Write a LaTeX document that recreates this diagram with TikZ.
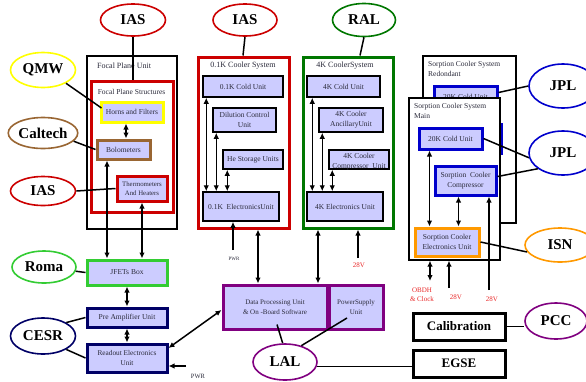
\documentclass[tikz,border=0pt]{standalone}
\usepackage{fontspec}
\setmainfont{Liberation Serif}
\usetikzlibrary{arrows.meta,calc,shapes.geometric}
\definecolor{lav}{HTML}{CCCCFF}
\definecolor{vred}{HTML}{CC0000}
\definecolor{tred}{HTML}{E82828}
\definecolor{dgreen}{HTML}{007700}
\definecolor{bgreen}{HTML}{33CC33}
\definecolor{navy}{HTML}{000066}
\definecolor{purp}{HTML}{800080}
\definecolor{orng}{HTML}{FF9900}
\definecolor{yel}{HTML}{FFFF00}
\definecolor{brwn}{HTML}{996633}
\definecolor{blu}{HTML}{0000CC}
\definecolor{txt}{HTML}{2A2A3A}
\begin{document}
\begin{tikzpicture}[x=1pt,y=-1pt,
 lbl/.style={ellipse, draw, line width=1.6pt, fill=white, inner sep=0pt, font=\fontsize{15}{15}\selectfont\bfseries},
 ubox/.style={draw, line width=1.5pt, fill=lav, inner sep=1pt, align=center, text=txt, font=\fontsize{7.5}{10}\selectfont},
 cbox/.style={ubox, line width=3pt},
 group/.style={draw, line width=1.2pt, fill=white},
 cgroup/.style={draw, line width=3pt, fill=white},
 ttl/.style={text=txt, font=\fontsize{8}{10}\selectfont, inner sep=0pt},
 conn/.style={line width=1.5pt},
 dbl/.style={conn, {Latex[length=6pt,width=5.5pt]}-{Latex[length=6pt,width=5.5pt]}},
 sgl/.style={conn, -{Latex[length=6pt,width=5.5pt]}},
 volt/.style={text=tred, font=\fontsize{7}{9}\selectfont, inner sep=0pt, align=center},
 pwrt/.style={text=txt, inner sep=0pt},
 bigbox/.style={draw, line width=3pt, fill=white, font=\fontsize{13}{13}\selectfont\bfseries, minimum width=92pt, minimum height=27pt}
]
\useasboundingbox (0,0) rectangle (586,381);

% ---------------- Focal plane unit ----------------
\node[group, minimum width=90pt, minimum height=173pt] (fpu) at (132,142.5) {};
\node[ttl, anchor=west] (fpulbl) at (97,66) {Focal Plane Unit};
\node[cgroup, draw=vred, minimum width=82pt, minimum height=131pt] (fps) at (132,146.5) {};
\node[ttl, font=\fontsize{7.5}{9}\selectfont] (fpslbl) at (131.5,92) {Focal Plane Structures};
\node[cbox, draw=yel, minimum width=62pt, minimum height=20pt] (horns) at (132,112) {Horns and Filters};
\node[cbox, draw=brwn, minimum width=53pt, minimum height=19pt] (bolo) at (123.5,149.5) {Bolometers};
\node[cbox, draw=vred, minimum width=50pt, minimum height=25pt, font=\fontsize{6.8}{9}\selectfont] (thermo) at (142,188.5) {Thermometers\\And Heaters};

% ---------------- Left chain ----------------
\node[cbox, draw=bgreen, minimum width=80pt, minimum height=25pt] (jfet) at (127,272.5) {JFETs Box};
\node[cbox, draw=navy, minimum width=80pt, minimum height=19pt] (preamp) at (127,317.5) {Pre Amplifier Unit};
\node[cbox, draw=navy, minimum width=80pt, minimum height=28pt, font=\fontsize{7.3}{10}\selectfont] (readout) at (127,358) {Readout Electronics\\Unit};

% ---------------- 0.1K cooler ----------------
\node[cgroup, draw=vred, minimum width=91pt, minimum height=171pt] (sys01) at (243.5,142.5) {};
\node[ttl] (sys01lbl) at (243,66) {0.1K Cooler System};
\node[ubox, minimum width=80pt, minimum height=21pt] (cold01) at (243,86.5) {0.1K Cold Unit};
\node[ubox, minimum width=63pt, minimum height=24pt] (dil) at (244.5,120) {Dilution Control\\Unit};
\node[ubox, minimum width=60pt, minimum height=19pt, inner sep=0pt] (he) at (253,159.5) {He Storage Units};
\node[ubox, minimum width=76pt, minimum height=29pt, inner sep=0pt] (elec01) at (241,206.5) {0.1K\ \ ElectronicsUnit};

% ---------------- 4K cooler ----------------
\node[cgroup, draw=dgreen, minimum width=90pt, minimum height=171pt] (sys4k) at (348,142.5) {};
\node[ttl] (sys4klbl) at (345,66) {4K CoolerSystem};
\node[ubox, minimum width=73pt, minimum height=21pt] (cold4k) at (343.5,86.5) {4K Cold Unit};
\node[ubox, minimum width=64pt, minimum height=24pt] (anc) at (351,120) {4K Cooler\\AncillaryUnit};
\node[ubox, minimum width=60pt, minimum height=19pt] (comp4k) at (359,159.5) {};
\node[text=txt, align=center, inner sep=0pt, font=\fontsize{7.5}{10}\selectfont] (comp4klbl) at (359,161.5) {4K Cooler\\Compressor\ \ Unit};
\node[ubox, minimum width=76pt, minimum height=29pt] (elec4k) at (345,206.5) {4K Electronics Unit};

% ---------------- DPU ----------------
\node[cbox, draw=purp, minimum width=104pt, minimum height=44pt, font=\fontsize{7}{10}\selectfont] (dpu) at (275,307) {Data Processing Unit\\\&\ On -Board Software};
\node[cbox, draw=purp, minimum width=54pt, minimum height=44pt, inner sep=0pt, font=\fontsize{7}{10}\selectfont] (psu) at (356,307) {PowerSupply\\Unit};

% ---------------- Calibration / EGSE ----------------
\node[bigbox] (calib) at (459,326.5) {Calibration};
\node[bigbox] (egse) at (459,363.5) {EGSE};

% ---------------- Sorption cooler ----------------
\node[group, minimum width=93pt, minimum height=167pt] (sorpred) at (469.5,139.5) {};
\node[ttl, anchor=north west, align=left, font=\fontsize{7.5}{10}\selectfont] (sorpredlbl) at (428,61) {Sorption Cooler System\\Redondant};
\node[cbox, draw=blu, minimum width=63pt, minimum height=21pt] (red20k) at (465.5,96.5) {20K Cold Unit};
\node[cbox, draw=blu, minimum width=51pt, minimum height=29pt] (redcomp) at (476,138.5) {};
\node[group, minimum width=91pt, minimum height=162pt] (sorpmain) at (454.5,179) {};
\node[ttl, anchor=north west, align=left, font=\fontsize{7.5}{10}\selectfont] (sorpmainlbl) at (414,103) {Sorption Cooler System\\Main};
\node[cbox, draw=blu, minimum width=63pt, minimum height=21pt] (main20k) at (450.5,138.5) {20K Cold Unit};
\node[cbox, draw=blu, minimum width=61pt, minimum height=29pt, inner sep=0pt] (maincomp) at (465.5,180.5) {Sorption\ \ Cooler\\Compressor};
\node[cbox, draw=orng, minimum width=64pt, minimum height=28pt, inner sep=0pt] (sorpelec) at (447,242) {Sorption Cooler\\Electronics Unit};

% ---------------- Ellipses ----------------
\node[lbl, draw=vred, minimum width=65pt, minimum height=32pt] (ias1) at (133,20) {IAS};
\node[lbl, draw=yel, minimum width=65pt, minimum height=35pt] (qmw) at (43,70) {QMW};
\node[lbl, draw=brwn, minimum width=65pt, minimum height=31pt] (caltech) at (43,133) {Caltech};
\node[lbl, draw=vred, minimum width=65pt, minimum height=29pt] (ias2) at (43,191) {IAS};
\node[lbl, draw=bgreen, minimum width=64pt, minimum height=32pt] (roma) at (44,267) {Roma};
\node[lbl, draw=navy, minimum width=65pt, minimum height=36pt] (cesr) at (43,336) {CESR};
\node[lbl, draw=vred, minimum width=64pt, minimum height=32pt] (ias3) at (245,20) {IAS};
\node[lbl, draw=dgreen, minimum width=63pt, minimum height=33pt] (ral) at (364,20) {RAL};
\node[lbl, draw=purp, minimum width=64pt, minimum height=36pt] (lal) at (285,362) {LAL};
\node[lbl, draw=purp, minimum width=62pt, minimum height=36pt] (pcc) at (556,321) {PCC};
\node[lbl, draw=blu, minimum width=68pt, minimum height=44pt] (jpl1) at (563,86) {JPL};
\node[lbl, draw=blu, minimum width=68pt, minimum height=44pt] (jpl2) at (563,153) {JPL};
\node[lbl, draw=orng, minimum width=70pt, minimum height=34pt] (isn) at (560,245) {ISN};

% ---------------- Connector end points ----------------
\coordinate (bj) at ($(bolo.south)+(-16.5,0)$);
\coordinate (s01d) at ($(sys01.south)+(14.5,0)$);
\coordinate (s4kd) at ($(sys4k.south)+(-30,0)$);

% ---------------- Connectors: focal plane ----------------
\draw[conn] (ias1.south) -- (ias1.south |- fps.north);
\draw[conn] (qmw.330) -- ($(horns.west)+(2,-4)$);
\draw[conn] (caltech.-15) -- (bolo.west);
\draw[conn] (ias2.east) -- (thermo.west);
\draw[dbl] ($(horns.south)+(-6,0)$) -- ($(bolo.north)+(2.5,0)$);
\draw[dbl] (bj) -- (bj |- jfet.north);
\draw[dbl] (thermo.south) -- (thermo.south |- jfet.north);
\draw[conn] (roma) -- (jfet.west);
\draw[dbl] (jfet.south) -- (preamp.north);
\draw[dbl] (preamp.south) -- (readout.north);
\draw[conn] (cesr.30) -- (preamp.west);
\draw[conn] (cesr.-30) -- (readout.west);
\draw[dbl] ($(readout.east)+(0,-10)$) -- ($(dpu.west)+(0,3)$);
\coordinate (pwr2) at (186,366);
\draw[sgl] (pwr2) -- (pwr2 -| readout.east);
\node[pwrt, font=\fontsize{6.5}{7}\selectfont] (pwr2lbl) at (198,376) {PWR};

% ---------------- Connectors: 0.1K ----------------
\draw[conn] (ias3.south) -- ($(sys01.north)+(-0.5,0)$);
\draw[dbl] ($(cold01.south west)+(4,0)$) -- ($(elec01.north west)+(4,0)$);
\draw[dbl] ($(dil.south west)+(4,0)$) -- ($(elec01.north west)+(14,0)$);
\draw[dbl] ($(he.south west)+(5,0)$) -- ($(elec01.north west)+(25,0)$);
\coordinate (pwr1) at (233,250);
\draw[sgl] (pwr1) -- (pwr1 |- elec01.south);
\node[pwrt, font=\fontsize{5}{6}\selectfont] (pwr1lbl) at (234,259) {PWR};
\draw[dbl] (s01d) -- (s01d |- dpu.north);

% ---------------- Connectors: 4K ----------------
\draw[conn] (ral.south) -- ($(sys4k.north)+(12,0)$);
\draw[dbl] ($(cold4k.south west)+(6,0)$) -- ($(elec4k.north west)+(6,0)$);
\draw[dbl] ($(anc.south west)+(4,0)$) -- ($(elec4k.north west)+(16,0)$);
\draw[dbl] ($(comp4k.south west)+(4,0)$) -- ($(elec4k.north west)+(26,0)$);
\draw[dbl] (s4kd) -- (s4kd |- dpu.north);
\coordinate (v28a) at (358,258);
\draw[sgl] (v28a) -- (v28a |- sys4k.south);
\node[volt] (v28albl) at (359,265) {28V};

% ---------------- Connectors: DPU / LAL ----------------
\draw[conn] ($(dpu.south)+(2,-6)$) -- (lal.97);
\draw[conn] ($(psu.center)+(-9,11)$) -- (lal.45);
\draw[conn] (lal.-8) -- (lal.-8 -| egse.west);
\draw[conn] (calib.east) -- (calib.east -| pcc.west);

% ---------------- Connectors: sorption ----------------
\draw[conn] (jpl1.west) -- ($(red20k.east)+(0,-4)$);
\draw[conn] (jpl2.188) -- (main20k.east);
\draw[conn] (jpl2.212) -- ($(maincomp.east)+(0,-4)$);
\draw[conn] (sorpelec.east) -- (isn.192);
\draw[dbl] ($(main20k.south west)+(12,0)$) -- ($(sorpelec.north west)+(16,0)$);
\draw[dbl] ($(maincomp.south west)+(25,0)$) -- ($(sorpelec.north west)+(45,0)$);
\coordinate (v28c) at (489,290);
\draw[sgl] (v28c) -- (v28c |- maincomp.south);
\coordinate (obdh) at (430,281);
\draw[dbl] (obdh) -- (obdh |- sorpmain.south);
\coordinate (v28b) at (449,288);
\draw[sgl] (v28b) -- (v28b |- sorpmain.south);
\node[volt] (obdhlbl) at (422,295) {OBDH\\\&\ Clock};
\node[volt] (v28blbl) at (456,297) {28V};
\node[volt] (v28clbl) at (492,299) {28V};
\end{tikzpicture}
\end{document}
